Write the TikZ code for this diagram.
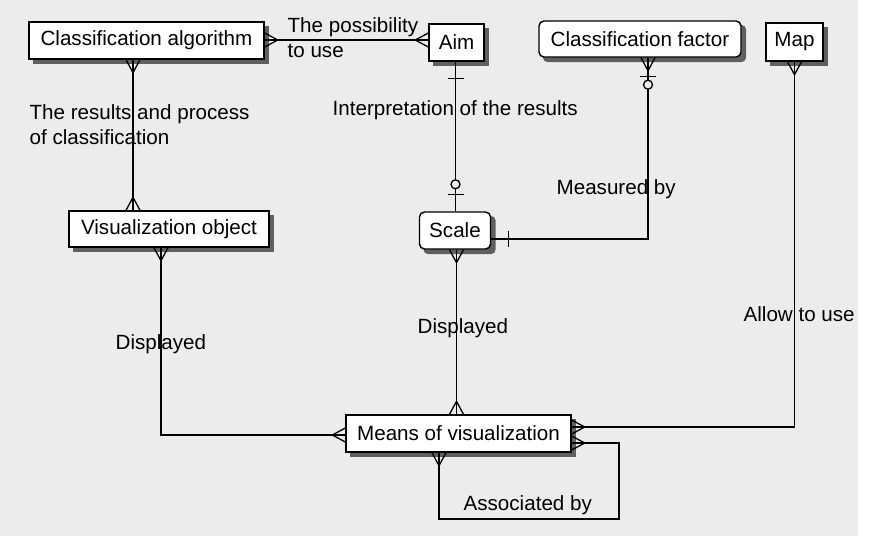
\documentclass[tikz,border=0pt]{standalone}
\usepackage{fontspec}
\setmainfont{Liberation Sans}
\usetikzlibrary{calc,backgrounds}
\definecolor{bg}{RGB}{236,236,236}
\definecolor{shd}{RGB}{95,95,95}
\newcommand\crowft[2]{%
  \draw ($(#1)!13pt!(#2)$) -- ($(#1)!7pt!90:(#2)$)
        ($(#1)!13pt!(#2)$) -- ($(#1)!7pt!-90:(#2)$);}
\newcommand\onebar[3]{%
  \draw ($(#1)!#3!(#2)!8pt!90:(#2)$) -- ($(#1)!#3!(#2)!8pt!-90:(#2)$);}
\newcommand\zcirc[3]{%
  \draw[fill=bg] ($(#1)!#3!(#2)$) circle[radius=4.5pt];}
\newcommand\shadowof[2][]{%
  \fill[shd,#1] ([shift={(4.5pt,-4.5pt)}]#2.south west) rectangle ([shift={(4.5pt,-4.5pt)}]#2.north east);}
\begin{document}
\begin{tikzpicture}[x=1pt,y=-1pt, line width=1.3pt,
  font=\fontsize{20.6}{25}\selectfont,
  ent/.style={draw, fill=white, inner sep=0pt, line width=1.4pt},
  rent/.style={ent, rounded corners=5pt},
  lbl/.style={anchor=base west, inner sep=0pt},
]
\useasboundingbox (0,0) rectangle (870,536);

% entities
\node[ent, minimum width=235pt, minimum height=37pt] (CA) at (146.5,40.5) {Classification algorithm};
\node[ent, minimum width=55pt, minimum height=37pt] (Aim) at (456.5,42.5) {Aim};
\node[rent, minimum width=202pt, minimum height=36pt] (CF) at (640,39) {Classification factor};
\node[ent, minimum width=57pt, minimum height=38pt] (Map) at (794.5,42) {Map};
\node[rent, minimum width=71pt, minimum height=37pt] (Sc) at (455,230.5) {Scale};
\node[ent, minimum width=200pt, minimum height=36pt] (VO) at (169,229) {Visualization object};
\node[ent, minimum width=225pt, minimum height=37pt] (MV) at (458.5,433.5) {Means of visualization};

\begin{scope}[on background layer]
\fill[bg] (0,0) rectangle (858,536);
\shadowof{CA}\shadowof{Aim}\shadowof[rounded corners=5pt]{CF}\shadowof{Map}
\shadowof[rounded corners=5pt]{Sc}\shadowof{VO}\shadowof{MV}
\end{scope}

% CA -- Aim
\coordinate (a1) at ([yshift=0.5pt]CA.east);
\coordinate (a2) at (a1 -| Aim.west);
\draw (a1) -- (a2);
\crowft{a1}{a2}\crowft{a2}{a1}

% CA -- VO
\coordinate (b1) at ([xshift=-13.5pt]CA.south);
\coordinate (b2) at (b1 |- VO.north);
\draw (b1) -- (b2);
\crowft{b1}{b2}\crowft{b2}{b1}

% Aim -- Scale
\coordinate (c1) at ([xshift=-1pt]Aim.south);
\coordinate (c2) at (c1 |- Sc.north);
\draw (c1) -- (c2);
\onebar{c1}{c2}{17pt}
\onebar{c2}{c1}{17pt}
\zcirc{c2}{c1}{27pt}

% CF -- Scale
\coordinate (d1) at ([xshift=8pt]CF.south);
\coordinate (d3) at ([yshift=-8.5pt]Sc.east);
\coordinate (d2) at (d1 |- d3);
\draw (d1) -- (d2) -- (d3);
\crowft{d1}{d2}
\onebar{d1}{d2}{19pt}
\zcirc{d1}{d2}{27pt}
\onebar{d3}{d2}{17pt}

% Map -- MV
\coordinate (e1) at (Map.south);
\coordinate (e3) at ([yshift=6.5pt]MV.east);
\coordinate (e2) at (e1 |- e3);
\draw (e1) -- (e2) -- (e3);
\crowft{e1}{e2}\crowft{e3}{e2}

% Scale -- MV
\coordinate (f1) at ([xshift=1.5pt]Sc.south);
\coordinate (f2) at (f1 |- MV.north);
\draw (f1) -- (f2);
\crowft{f1}{f2}\crowft{f2}{f1}

% VO -- MV
\coordinate (g1) at ([xshift=-8pt]VO.south);
\coordinate (g3) at ([yshift=-1.5pt]MV.west);
\coordinate (g2) at (g1 |- g3);
\draw (g1) -- (g2) -- (g3);
\crowft{g1}{g2}\crowft{g3}{g2}

% MV self
\coordinate (h1) at ([xshift=-19.5pt]MV.south);
\coordinate (hc) at (619,519);
\coordinate (h4) at ([yshift=-9.5pt]MV.east);
\coordinate (h2) at (h1 |- hc);
\coordinate (h3) at (hc |- h4);
\draw (h1) -- (h2) -- (hc) -- (h3) -- (h4);
\crowft{h1}{h2}\crowft{h4}{h3}

% labels
\node[lbl] (l1) at (287,32) {The possibility};
\node[lbl] (l2) at (287,57) {to use};
\node[lbl] (l3) at (29,119) {The results and process};
\node[lbl] (l4) at (29,144) {of classification};
\node[lbl] (l5) at (332,115) {Interpretation of the results};
\node[lbl] (l6) at (556,194) {Measured by};
\node[lbl] (l7) at (115,349) {Displayed};
\node[lbl] (l8) at (417,333) {Displayed};
\node[lbl] (l9) at (743,321) {Allow to use};
\node[lbl] (l10) at (463,510) {Associated by};
\end{tikzpicture}
\end{document}
